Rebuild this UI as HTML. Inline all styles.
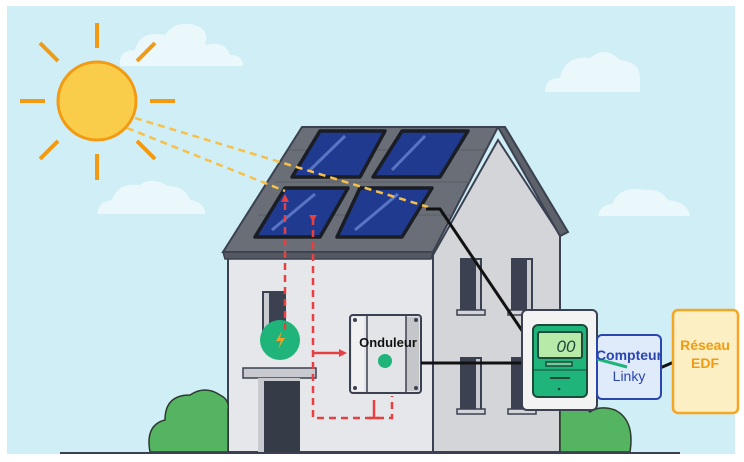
<!DOCTYPE html>
<html><head><meta charset="utf-8"><style>
html,body{margin:0;padding:0;background:#fff;width:744px;height:462px;overflow:hidden}
svg{display:block}
text{font-family:"Liberation Sans",sans-serif}
</style></head><body>
<svg width="744" height="462" viewBox="0 0 744 462" xmlns="http://www.w3.org/2000/svg">
<rect x="7" y="6" width="728" height="448" fill="#cfeef6"/>
<g fill="#eaf8fb">
<path d="M120 66 Q118 50 135 50 Q140 30 165 35 Q175 20 195 25 Q210 30 205 45 Q225 40 230 55 Q243 55 243 66 Z"/>
<path d="M545 92 Q545 78 560 78 Q565 55 590 58 Q605 45 620 60 Q640 62 640 78 Q640 92 640 92 Z"/>
<path d="M97 214 Q98 202 112 200 Q118 182 140 185 Q152 176 168 186 Q185 186 190 200 Q205 202 205 214 Z"/>
<path d="M598 216 Q600 205 612 204 Q620 185 645 190 Q660 188 668 200 Q688 202 690 216 Z"/>
</g>
<g stroke="#f29a12" stroke-width="4" stroke-linecap="butt">
<line x1="97" y1="23" x2="97" y2="48"/><line x1="97" y1="154" x2="97" y2="180"/>
<line x1="20" y1="101" x2="45" y2="101"/><line x1="150" y1="101" x2="175" y2="101"/>
<line x1="40" y1="43" x2="58" y2="61"/><line x1="155" y1="43" x2="137" y2="61"/>
<line x1="40" y1="159" x2="58" y2="141"/><line x1="155" y1="159" x2="137" y2="141"/>
</g>
<circle cx="97" cy="101" r="39" fill="#f9cd4a" stroke="#f29a12" stroke-width="3"/>
<polygon points="433,255 498,140 560,235 560,452 433,452" fill="#d4d5d9" stroke="#3b4150" stroke-width="2"/>
<polygon points="498,127 505,127 568,232 560,236" fill="#5d6169" stroke="#3b4150" stroke-width="2"/>
<rect x="228" y="255" width="205" height="197" fill="#e6e7ea" stroke="#3b4150" stroke-width="2"/>
<polygon points="302,127 498,127 433,252 223,252" fill="#6a6e76" stroke="#3b4150" stroke-width="2"/>
<polygon points="223,252 433,252 431,259 225,259" fill="#55595f" stroke="#3b4150" stroke-width="1.5"/>
<g stroke="#5a5e65" stroke-width="1"><line x1="290" y1="150" x2="485" y2="150"/><line x1="275" y1="182" x2="470" y2="182"/><line x1="258" y1="215" x2="452" y2="215"/></g>
<g fill="#1f3a8f" stroke="#1a1d24" stroke-width="3.5" stroke-linejoin="round">
<polygon points="320,131 385,131 360,177 292,177"/>
<polygon points="402,131 468,131 440,177 373,177"/>
<polygon points="285,188 348,188 320,237 255,237"/>
<polygon points="360,188 432,188 402,237 337,237"/>
</g>
<g stroke="#6f8fd8" stroke-width="3" opacity="0.7">
<line x1="310" y1="170" x2="345" y2="136"/><line x1="392" y1="170" x2="425" y2="136"/>
<line x1="272" y1="230" x2="315" y2="194"/><line x1="355" y1="230" x2="398" y2="194"/>
</g>
<g fill="#3b4150"><rect x="460" y="258" width="22" height="54"/><rect x="511" y="258" width="22" height="54"/>
<rect x="460" y="357" width="22" height="53"/><rect x="511" y="357" width="22" height="53"/></g>
<g fill="#c9cad0"><rect x="476" y="260" width="4" height="50"/><rect x="527" y="260" width="4" height="50"/><rect x="476" y="359" width="4" height="50"/></g>
<g fill="#d4d5d9" stroke="#3b4150" stroke-width="1.5"><rect x="457" y="310" width="28" height="5"/><rect x="508" y="310" width="28" height="5"/>
<rect x="457" y="409" width="28" height="5"/><rect x="508" y="409" width="28" height="5"/></g>
<rect x="262" y="291" width="24" height="40" fill="#3b4150"/><rect x="264" y="293" width="5" height="38" fill="#c9cad0"/>
<rect x="243" y="368" width="73" height="10" fill="#c9cad0" stroke="#3b4150" stroke-width="1.5"/>
<rect x="258" y="378" width="42" height="74" fill="#c9cad0"/><rect x="264" y="381" width="36" height="71" fill="#353b47"/>
<circle cx="280" cy="340" r="20" fill="#1fb57a"/>
<path d="M282 331 L276 341 L281 341 L278 349 L285 338 L280 338 Z" fill="#f2a128"/>
<path d="M150 452 Q145 425 165 420 Q165 395 190 395 Q205 385 220 395 Q230 400 228 410 L228 452 Z" fill="#55b461" stroke="#2d3a2f" stroke-width="1.5"/>
<path d="M560 405 Q575 398 590 412 Q600 405 615 410 Q635 420 630 452 L560 452 Z" fill="#55b461" stroke="#2d3a2f" stroke-width="1.5"/>
<line x1="60" y1="453" x2="680" y2="453" stroke="#3b4150" stroke-width="2"/>
<g stroke="#f6c04a" stroke-width="2.5" stroke-dasharray="7,5" fill="none">
<line x1="135" y1="118" x2="428" y2="207"/>
<line x1="127" y1="128" x2="285" y2="191"/>
</g>
<rect x="350" y="315" width="71" height="78" rx="3" fill="#e3e4e7" stroke="#3b4150" stroke-width="2"/>
<rect x="352" y="317" width="12" height="74" fill="#f0f0f2"/><rect x="406" y="317" width="13" height="74" fill="#c5c6ca"/>
<line x1="367" y1="316" x2="367" y2="392" stroke="#3b4150" stroke-width="1.5"/><line x1="406" y1="316" x2="406" y2="392" stroke="#3b4150" stroke-width="1.5"/>
<g fill="#3b4150"><circle cx="355" cy="320" r="2"/><circle cx="416" cy="320" r="2"/><circle cx="355" cy="388" r="2"/><circle cx="416" cy="388" r="2"/></g>
<circle cx="385" cy="361" r="7" fill="#1fb57a"/>
<text x="388" y="347" font-size="13" font-weight="bold" text-anchor="middle" fill="#111">Onduleur</text>
<g stroke="#111" stroke-width="3" fill="none">
<polyline points="426,209 440,209 525,335"/>
<line x1="421" y1="363" x2="524" y2="363"/>
<line x1="660" y1="368" x2="674" y2="362"/>
</g>
<g stroke="#e84040" stroke-width="2.5" stroke-dasharray="7,5" fill="none">
<line x1="285" y1="330" x2="285" y2="200"/>
<polyline points="313,218 313,418 392,418 392,396"/>
</g>
<g stroke="#e84040" stroke-width="2.5" fill="none"><line x1="313" y1="353" x2="340" y2="353"/><line x1="374" y1="400" x2="374" y2="418"/><line x1="369" y1="418" x2="379" y2="418"/></g>
<polygon points="281,202 289,202 285,194" fill="#e84040"/>
<polygon points="309,215 317,215 313,222" fill="#e84040"/>
<polygon points="339,349 339,357 347,353" fill="#e84040"/>
<rect x="522" y="310" width="75" height="100" rx="5" fill="#f2f3f2" stroke="#3b4150" stroke-width="2"/>
<rect x="533" y="325" width="54" height="72" rx="5" fill="#1fb57a" stroke="#1d4a3a" stroke-width="2"/>
<rect x="538" y="332" width="44" height="26" rx="2" fill="#b7e9a8" stroke="#1d4a3a" stroke-width="2"/>
<text x="566" y="352" font-size="17" font-style="italic" text-anchor="middle" fill="#1d4a3a">00</text>
<rect x="546" y="362" width="26" height="4" fill="#6ccf96" stroke="#1d4a3a" stroke-width="1.5"/>
<line x1="533" y1="370" x2="587" y2="370" stroke="#1d4a3a" stroke-width="1"/>
<line x1="550" y1="378" x2="570" y2="378" stroke="#1d4a3a" stroke-width="2"/>
<circle cx="559" cy="389" r="1.3" fill="#1d4a3a"/>
<rect x="597" y="335" width="64" height="64" rx="5" fill="#dfeafb" stroke="#2a44b0" stroke-width="2"/>
<line x1="597" y1="359" x2="627" y2="367" stroke="#1fb57a" stroke-width="3"/>
<text x="629" y="360" font-size="14" font-weight="bold" text-anchor="middle" fill="#2a44b0">Compteur</text>
<text x="629" y="381" font-size="14" text-anchor="middle" fill="#2a44b0">Linky</text>
<rect x="673" y="310" width="65" height="103" rx="5" fill="#fdefc4" stroke="#f5a623" stroke-width="2.5"/>
<text x="705" y="350" font-size="14" font-weight="bold" text-anchor="middle" fill="#f29a12">Réseau</text>
<text x="705" y="368" font-size="14" font-weight="bold" text-anchor="middle" fill="#f29a12">EDF</text>
</svg>
</body></html>
